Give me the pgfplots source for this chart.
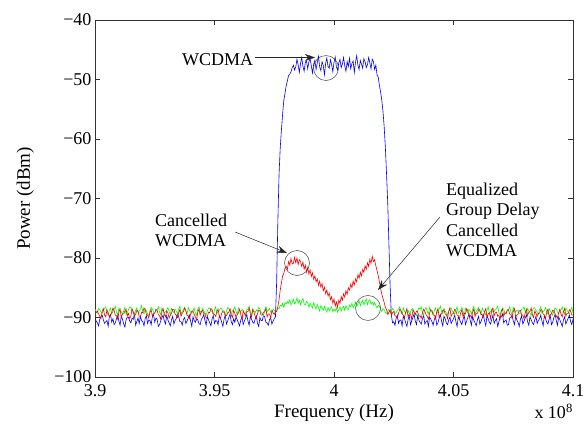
\documentclass[border=0pt]{standalone}
\usepackage{pgfplots}
\pgfplotsset{compat=1.18}
\usepackage{pgfplotstable}
\usepackage{fontspec}
\setmainfont{Liberation Serif}
\usetikzlibrary{arrows.meta}
\pgfplotstableread{
x b r g
3.9000 -90.1 -89.5 -88.6
3.9005 -90.6 -89.2 -89.0
3.9010 -90.9 -88.9 -89.2
3.9015 -91.4 -89.4 -88.5
3.9020 -90.3 -89.8 -88.7
3.9025 -89.8 -90.2 -89.1
3.9030 -89.6 -89.0 -89.3
3.9035 -90.4 -88.5 -88.9
3.9040 -91.0 -89.6 -88.5
3.9045 -90.7 -89.9 -88.2
3.9050 -90.5 -88.7 -89.0
3.9055 -91.5 -89.3 -89.5
3.9060 -89.9 -89.9 -88.8
3.9065 -89.5 -89.5 -88.4
3.9070 -90.8 -89.2 -89.4
3.9075 -90.2 -88.4 -89.0
3.9080 -91.2 -88.8 -88.6
3.9085 -90.9 -89.6 -88.1
3.9090 -90.2 -89.7 -89.1
3.9095 -89.6 -90.3 -89.6
3.9100 -90.6 -89.1 -88.4
3.9105 -91.3 -88.6 -88.8
3.9110 -89.7 -90.0 -89.0
3.9115 -90.3 -89.4 -89.4
3.9120 -91.1 -89.4 -88.9
3.9125 -91.6 -88.9 -88.3
3.9130 -90.4 -88.6 -89.5
3.9135 -89.9 -89.7 -89.2
3.9140 -90.0 -89.3 -88.7
3.9145 -90.6 -90.2 -88.2
3.9150 -90.9 -89.8 -88.3
3.9155 -90.1 -88.5 -89.0
3.9160 -90.3 -89.0 -89.2
3.9165 -89.4 -89.7 -89.7
3.9170 -91.3 -89.5 -88.8
3.9175 -90.7 -88.8 -88.4
3.9180 -90.1 -88.9 -89.3
3.9185 -91.0 -89.9 -88.9
3.9190 -89.8 -89.9 -88.6
3.9195 -90.5 -89.1 -88.0
3.9200 -90.7 -89.2 -89.0
3.9205 -91.4 -88.4 -89.4
3.9210 -90.2 -88.7 -88.5
3.9215 -89.7 -89.5 -88.9
3.9220 -91.0 -89.6 -89.4
3.9225 -90.4 -90.1 -89.7
3.9230 -90.5 -89.1 -88.9
3.9235 -91.2 -88.7 -88.3
3.9240 -89.9 -89.8 -88.6
3.9245 -89.5 -89.3 -89.1
3.9250 -90.8 -89.3 -89.2
3.9255 -90.1 -88.6 -88.8
3.9260 -90.3 -88.8 -88.7
3.9265 -91.5 -89.5 -88.2
3.9270 -91.2 -89.7 -89.1
3.9275 -90.6 -90.3 -89.5
3.9280 -90.0 -89.0 -88.4
3.9285 -89.6 -88.5 -88.7
3.9290 -90.6 -89.5 -89.3
3.9295 -91.1 -89.9 -89.0
3.9300 -89.7 -88.9 -88.8
3.9305 -90.4 -89.2 -88.3
3.9310 -90.9 -90.1 -89.0
3.9315 -91.4 -89.6 -89.6
3.9320 -90.4 -89.3 -88.5
3.9325 -89.8 -88.6 -88.9
3.9330 -91.1 -88.7 -89.2
3.9335 -90.5 -89.4 -88.6
3.9340 -90.2 -89.6 -88.9
3.9345 -89.4 -90.0 -89.4
3.9350 -89.8 -89.2 -88.6
3.9355 -90.7 -88.7 -88.1
3.9360 -90.7 -89.8 -89.4
3.9365 -91.3 -89.3 -89.0
3.9370 -90.3 -89.0 -88.7
3.9375 -90.0 -88.4 -88.3
3.9380 -91.0 -88.8 -89.0
3.9385 -90.6 -89.6 -89.5
3.9390 -90.1 -89.7 -88.3
3.9395 -89.6 -90.2 -88.8
3.9400 -90.6 -89.4 -89.1
3.9405 -91.5 -88.9 -89.3
3.9410 -89.9 -88.9 -88.8
3.9415 -90.5 -89.5 -88.4
3.9420 -90.8 -89.9 -89.3
3.9425 -90.2 -90.4 -89.6
3.9430 -90.4 -89.1 -88.6
3.9435 -91.0 -88.6 -88.2
3.9440 -91.2 -89.6 -89.0
3.9445 -90.3 -89.0 -89.2
3.9450 -90.0 -88.8 -88.5
3.9455 -89.5 -89.3 -88.9
3.9460 -90.5 -89.4 -89.2
3.9465 -91.3 -90.1 -89.6
3.9470 -89.8 -89.9 -88.9
3.9475 -90.4 -89.1 -88.4
3.9480 -90.9 -89.2 -88.4
3.9485 -91.4 -88.5 -88.8
3.9490 -90.2 -88.7 -89.1
3.9495 -89.7 -89.4 -89.5
3.9500 -91.0 -89.5 -88.7
3.9505 -90.5 -89.8 -88.2
3.9510 -90.6 -89.0 -89.3
3.9515 -91.2 -88.6 -89.0
3.9520 -89.7 -89.8 -88.8
3.9525 -90.1 -90.2 -88.4
3.9530 -90.8 -89.3 -88.5
3.9535 -91.5 -88.9 -89.1
3.9540 -90.3 -88.9 -89.2
3.9545 -89.6 -89.6 -89.7
3.9550 -91.1 -89.7 -88.9
3.9555 -90.6 -89.2 -88.3
3.9560 -90.0 -89.1 -88.6
3.9565 -89.4 -88.5 -89.0
3.9570 -90.7 -89.6 -89.4
3.9575 -91.2 -90.0 -88.9
3.9580 -90.2 -88.8 -88.7
3.9585 -90.8 -89.3 -88.2
3.9590 -89.9 -89.9 -89.0
3.9595 -90.4 -89.5 -89.5
3.9600 -90.9 -89.2 -88.4
3.9605 -91.4 -88.6 -88.8
3.9610 -90.4 -89.5 -89.1
3.9615 -89.8 -90.3 -88.6
3.9620 -91.2 -88.9 -88.8
3.9625 -90.6 -89.3 -89.4
3.9630 -90.1 -89.7 -89.3
3.9635 -89.5 -89.0 -88.7
3.9640 -90.6 -89.0 -88.6
3.9645 -91.3 -88.4 -88.1
3.9650 -89.8 -89.4 -89.0
3.9655 -90.3 -89.9 -89.6
3.9660 -90.8 -88.7 -88.5
3.9665 -91.0 -89.1 -88.9
3.9670 -90.3 -89.8 -89.2
3.9675 -89.7 -90.2 -88.7
3.9680 -91.0 -89.3 -88.9
3.9685 -91.5 -88.8 -88.3
3.9690 -90.0 -88.9 -88.6
3.9695 -90.5 -89.6 -89.2
3.9700 -90.5 -89.6 -89.3
3.9705 -89.6 -89.1 -89.7
3.9710 -89.9 -89.1 -88.7
3.9715 -90.8 -88.5 -88.2
3.9720 -90.9 -89.9 -89.0
3.9725 -91.3 -89.4 -88.8
3.9730 -90.4 -89.4 -88.5
3.9735 -90.0 -90.1 -89.1
3.9740 -91.1 -88.8 -89.1
3.9745 -90.6 -89.2 -88.6
3.9750 -90.2 -89.5 -88.8
3.9755 -89.9 -88.9 -89.0
3.9760 -84.0 -89.0 -88.9
3.9765 -74.0 -88.2 -88.4
3.9770 -66.0 -87.0 -88.5
3.9775 -61.5 -85.4 -87.9
3.9780 -58.5 -84.2 -88.1
3.9785 -55.8 -83.0 -87.6
3.9790 -53.5 -82.6 -88.3
3.9795 -52.3 -81.7 -87.5
3.9800 -51.0 -81.4 -87.7
3.9805 -50.2 -81.9 -87.3
3.9810 -49.3 -80.6 -87.6
3.9815 -49.1 -81.2 -87.0
3.9820 -48.7 -80.1 -87.9
3.9825 -48.0 -81.0 -87.5
3.9830 -47.6 -80.9 -86.9
3.9835 -48.4 -79.9 -87.7
3.9840 -47.9 -80.8 -87.4
3.9845 -46.6 -80.0 -86.7
3.9850 -47.5 -81.1 -87.6
3.9855 -48.8 -80.3 -87.1
3.9860 -47.3 -80.6 -87.9
3.9865 -46.3 -81.4 -87.2
3.9870 -47.8 -80.7 -86.8
3.9875 -48.6 -81.9 -87.7
3.9880 -47.1 -81.2 -87.9
3.9885 -46.9 -82.4 -87.3
3.9890 -48.2 -81.6 -87.5
3.9895 -47.0 -82.7 -88.3
3.9900 -46.5 -82.0 -87.6
3.9905 -47.7 -83.1 -88.0
3.9910 -48.9 -82.5 -88.4
3.9915 -47.4 -83.6 -87.5
3.9920 -46.8 -83.0 -88.1
3.9925 -48.3 -84.0 -88.6
3.9930 -47.2 -83.5 -87.8
3.9935 -46.1 -84.6 -88.3
3.9940 -47.9 -83.9 -88.9
3.9945 -48.5 -84.9 -88.0
3.9950 -47.0 -84.3 -88.4
3.9955 -47.6 -85.5 -88.8
3.9960 -49.2 -84.9 -88.1
3.9965 -47.3 -86.0 -88.7
3.9970 -46.4 -85.4 -89.1
3.9975 -47.8 -86.4 -88.3
3.9980 -48.1 -85.9 -88.9
3.9985 -46.7 -87.0 -88.5
3.9990 -47.5 -86.5 -88.2
3.9995 -48.7 -87.6 -89.0
4.0000 -47.1 -86.9 -88.6
4.0005 -46.2 -88.1 -88.9
4.0010 -47.9 -87.4 -88.3
4.0015 -48.4 -88.3 -89.1
4.0020 -47.2 -87.1 -88.7
4.0025 -46.6 -87.6 -88.2
4.0030 -48.0 -86.5 -88.9
4.0035 -47.4 -87.1 -88.4
4.0040 -46.3 -86.0 -88.1
4.0045 -47.7 -86.6 -88.8
4.0050 -48.6 -85.5 -88.0
4.0055 -47.0 -86.1 -88.5
4.0060 -47.8 -85.0 -88.7
4.0065 -46.4 -85.4 -87.9
4.0070 -48.2 -84.4 -88.2
4.0075 -47.3 -85.0 -87.6
4.0080 -46.9 -83.9 -88.4
4.0085 -48.8 -84.5 -88.0
4.0090 -47.1 -83.5 -87.4
4.0095 -46.0 -84.0 -88.1
4.0100 -47.6 -82.8 -87.7
4.0105 -48.3 -83.4 -87.2
4.0110 -46.8 -82.4 -88.0
4.0115 -47.4 -83.0 -87.5
4.0120 -48.1 -81.9 -87.1
4.0125 -46.5 -82.4 -87.9
4.0130 -47.0 -81.3 -87.3
4.0135 -48.0 -81.9 -86.9
4.0140 -47.5 -80.8 -87.8
4.0145 -46.3 -81.4 -87.2
4.0150 -47.2 -80.2 -87.0
4.0155 -48.2 -80.9 -87.8
4.0160 -46.6 -79.7 -87.4
4.0165 -47.0 -80.6 -87.9
4.0170 -48.3 -80.3 -87.5
4.0175 -47.6 -81.3 -88.0
4.0180 -49.2 -82.1 -88.4
4.0185 -49.6 -83.0 -87.9
4.0190 -51.0 -84.0 -88.1
4.0195 -52.1 -85.1 -88.7
4.0200 -53.5 -86.1 -89.0
4.0205 -55.4 -86.8 -88.5
4.0210 -58.0 -87.5 -88.7
4.0215 -61.5 -88.3 -89.2
4.0220 -66.0 -88.7 -89.3
4.0225 -71.0 -89.5 -88.9
4.0230 -78.0 -89.1 -88.6
4.0235 -85.0 -88.7 -89.2
4.0240 -89.6 -89.6 -89.1
4.0245 -90.9 -89.2 -88.5
4.0250 -90.7 -89.0 -88.7
4.0255 -91.3 -89.7 -89.3
4.0260 -90.1 -89.8 -89.2
4.0265 -89.6 -90.2 -88.8
4.0270 -91.0 -89.3 -88.6
4.0275 -90.5 -88.6 -88.2
4.0280 -90.4 -88.8 -89.0
4.0285 -91.4 -89.4 -89.5
4.0290 -89.8 -89.6 -88.4
4.0295 -90.2 -90.0 -88.9
4.0300 -90.9 -89.1 -89.3
4.0305 -91.5 -88.5 -88.8
4.0310 -90.3 -89.9 -88.8
4.0315 -89.7 -89.4 -89.4
4.0320 -91.2 -89.4 -89.1
4.0325 -90.6 -90.3 -88.6
4.0330 -90.0 -88.7 -88.5
4.0335 -89.4 -89.1 -89.0
4.0340 -90.6 -89.5 -89.4
4.0345 -91.2 -88.9 -89.7
4.0350 -89.7 -89.0 -88.9
4.0355 -90.4 -89.8 -88.4
4.0360 -90.8 -89.7 -88.6
4.0365 -91.1 -90.1 -88.2
4.0370 -90.2 -89.2 -89.2
4.0375 -89.6 -88.6 -89.6
4.0380 -91.1 -88.9 -88.7
4.0385 -90.7 -89.5 -88.3
4.0390 -90.5 -89.8 -89.0
4.0395 -91.5 -90.3 -89.4
4.0400 -89.9 -89.3 -88.3
4.0405 -90.3 -88.7 -88.8
4.0410 -90.7 -88.8 -89.1
4.0415 -91.3 -89.6 -89.5
4.0420 -90.3 -89.6 -88.8
4.0425 -89.8 -90.2 -88.4
4.0430 -91.3 -89.1 -89.3
4.0435 -90.9 -88.5 -89.0
4.0440 -90.1 -90.0 -88.6
4.0445 -89.5 -89.5 -88.1
4.0450 -90.6 -89.4 -89.0
4.0455 -91.4 -88.8 -89.4
4.0460 -89.8 -88.7 -88.5
4.0465 -90.2 -89.4 -88.9
4.0470 -90.9 -89.5 -89.2
4.0475 -91.2 -90.2 -89.6
4.0480 -90.4 -89.0 -88.9
4.0485 -89.9 -88.4 -88.4
4.0490 -91.0 -89.8 -88.4
4.0495 -90.6 -89.4 -88.9
4.0500 -90.2 -89.3 -89.1
4.0505 -89.6 -88.6 -89.5
4.0510 -90.7 -88.8 -88.7
4.0515 -91.5 -89.6 -88.2
4.0520 -89.9 -89.7 -89.3
4.0525 -90.3 -90.2 -89.0
4.0530 -90.8 -89.2 -88.8
4.0535 -91.2 -88.7 -88.3
4.0540 -90.3 -89.9 -89.0
4.0545 -89.7 -89.3 -89.6
4.0550 -91.2 -89.4 -88.5
4.0555 -90.6 -88.5 -88.9
4.0560 -90.0 -88.9 -89.2
4.0565 -89.4 -89.7 -88.6
4.0570 -90.5 -89.6 -88.9
4.0575 -91.3 -90.1 -89.4
4.0580 -89.8 -89.1 -88.6
4.0585 -90.5 -88.6 -88.1
4.0590 -90.9 -89.8 -89.4
4.0595 -91.4 -89.3 -89.0
4.0600 -90.4 -89.3 -88.7
4.0605 -89.8 -88.7 -88.3
4.0610 -91.1 -88.7 -89.0
4.0615 -90.7 -89.5 -89.5
4.0620 -90.1 -89.5 -88.4
4.0625 -89.5 -90.0 -88.8
4.0630 -90.6 -89.0 -89.1
4.0635 -91.4 -88.5 -89.6
4.0640 -89.7 -89.9 -88.8
4.0645 -90.2 -89.4 -88.2
4.0650 -90.8 -89.2 -89.3
4.0655 -91.1 -90.2 -89.0
4.0660 -90.3 -88.8 -88.6
4.0665 -89.6 -88.4 -89.1
4.0670 -91.0 -89.7 -89.0
4.0675 -90.5 -89.2 -88.6
4.0680 -90.2 -89.1 -88.5
4.0685 -91.5 -89.8 -88.1
4.0690 -90.7 -89.6 -89.2
4.0695 -90.0 -90.3 -89.5
4.0700 -89.9 -88.9 -88.9
4.0705 -89.4 -88.6 -88.4
4.0710 -90.9 -89.8 -88.6
4.0715 -90.6 -89.2 -89.2
4.0720 -90.4 -89.3 -89.4
4.0725 -91.3 -88.7 -88.9
4.0730 -91.2 -88.7 -88.7
4.0735 -90.1 -89.4 -88.2
4.0740 -90.0 -89.5 -89.0
4.0745 -89.6 -90.1 -89.5
4.0750 -90.6 -89.0 -88.3
4.0755 -91.2 -88.5 -88.7
4.0760 -89.8 -89.9 -89.1
4.0765 -90.4 -89.6 -88.8
4.0770 -90.8 -89.4 -88.8
4.0775 -91.5 -88.9 -89.3
4.0780 -90.3 -88.8 -89.3
4.0785 -89.7 -89.5 -88.6
4.0790 -91.1 -89.6 -88.6
4.0795 -90.6 -90.2 -88.2
4.0800 -90.1 -89.2 -89.0
4.0805 -89.5 -88.6 -89.4
4.0810 -90.7 -89.7 -88.5
4.0815 -91.3 -89.1 -88.9
4.0820 -89.9 -89.0 -89.2
4.0825 -90.4 -88.4 -89.7
4.0830 -90.9 -89.5 -88.9
4.0835 -91.2 -90.0 -88.4
4.0840 -90.4 -88.9 -88.4
4.0845 -89.8 -89.3 -88.8
4.0850 -91.0 -89.8 -89.1
4.0855 -90.5 -89.3 -89.5
4.0860 -90.2 -89.3 -88.7
4.0865 -89.6 -88.7 -88.2
4.0870 -90.6 -88.7 -89.3
4.0875 -91.4 -89.4 -89.0
4.0880 -89.7 -89.6 -88.8
4.0885 -90.2 -90.2 -88.3
4.0890 -90.8 -89.1 -89.0
4.0895 -91.1 -88.6 -89.4
4.0900 -90.3 -89.9 -88.5
4.0905 -89.7 -89.5 -88.9
4.0910 -91.2 -89.4 -89.2
4.0915 -90.8 -88.8 -89.6
4.0920 -90.0 -88.8 -88.9
4.0925 -89.5 -89.4 -88.4
4.0930 -90.5 -89.7 -88.6
4.0935 -91.3 -90.1 -89.1
4.0940 -89.9 -89.2 -89.4
4.0945 -90.4 -88.6 -88.8
4.0950 -90.9 -89.5 -88.7
4.0955 -91.5 -89.9 -88.2
4.0960 -90.4 -89.0 -89.0
4.0965 -89.9 -88.5 -89.4
4.0970 -91.1 -89.8 -88.4
4.0975 -90.6 -89.3 -88.8
4.0980 -90.1 -89.3 -89.1
4.0985 -89.6 -88.7 -89.5
4.0990 -90.7 -88.9 -88.8
4.0995 -91.2 -89.6 -88.3
4.1000 -90.3 -89.6 -89.2
}\spec

\begin{document}
\begin{tikzpicture}
\useasboundingbox (0,0) rectangle (588pt,434pt);
\begin{axis}[
  at={(95pt,57pt)}, anchor=south west,
  width=478pt, height=357pt, scale only axis,
  xmin=3.9, xmax=4.1, ymin=-100, ymax=-40,
  xtick={3.9,3.95,4,4.05,4.1},
  xticklabels={3.9,3.95,4,4.05,4.1},
  ytick={-100,-90,-80,-70,-60,-50,-40},
  yticklabels={−100,−90,−80,−70,−60,−50,−40},
  tick align=inside, major tick length=5pt,
  tick style={black!80, line width=0.5pt},
  axis line style={black!80, line width=0.6pt},
  tick label style={font=\fontsize{18}{21}\selectfont},
  xticklabel style={yshift=-4pt},
  xlabel={Frequency (Hz)}, ylabel={Power (dBm)},
  label style={font=\fontsize{19}{22}\selectfont},
  xlabel style={at={(axis description cs:0.5,-0.101)}, anchor=center},
  ylabel style={at={(axis description cs:-0.146,0.5)}, anchor=center},
  clip mode=individual,
]
\addplot[blue, line width=0.6pt] table[x=x, y=b] {\spec};
\addplot[green, line width=0.6pt] table[x=x, y=g] {\spec};
\addplot[red, line width=0.6pt] table[x=x, y=r] {\spec};

% annotations
\node[anchor=west, inner sep=0pt, font=\fontsize{18}{20}\selectfont] at (axis cs:3.9364,-46.64) {WCDMA};
\draw[black!85, line width=0.5pt, -{Stealth[length=10pt,width=7pt]}] (axis cs:3.96695,-46.30) -- (axis cs:3.99205,-46.30);
\draw[black!75, line width=0.5pt] (axis cs:3.99665,-48.07) circle[radius=12.5pt];

\node[anchor=west, inner sep=0pt, align=left, font=\fontsize{18}{20}\selectfont] at (axis cs:3.9251,-75.29) {Cancelled\\WCDMA};
\draw[black!85, line width=0.5pt, -{Stealth[length=10pt,width=7pt]}] (axis cs:3.95858,-75.63) -- (axis cs:3.98033,-79.16);
\draw[black!75, line width=0.5pt] (axis cs:3.98452,-80.84) circle[radius=12.5pt];

\node[anchor=west, inner sep=0pt, align=left, font=\fontsize{18}{20.3}\selectfont] at (axis cs:4.04686,-73.61) {Equalized\\Group Delay\\Cancelled\\WCDMA};
\draw[black!85, line width=0.5pt, -{Stealth[length=10pt,width=7pt]}] (axis cs:4.04435,-73.11) -- (axis cs:4.01841,-85.38);
\draw[black!75, line width=0.5pt] (axis cs:4.01423,-88.40) circle[radius=12.5pt];

\node[anchor=east, inner sep=0pt, font=\fontsize{18}{21}\selectfont] at (axis description cs:1.0,-0.097) {x 10\textsuperscript{8}};
\end{axis}
\end{tikzpicture}
\end{document}
